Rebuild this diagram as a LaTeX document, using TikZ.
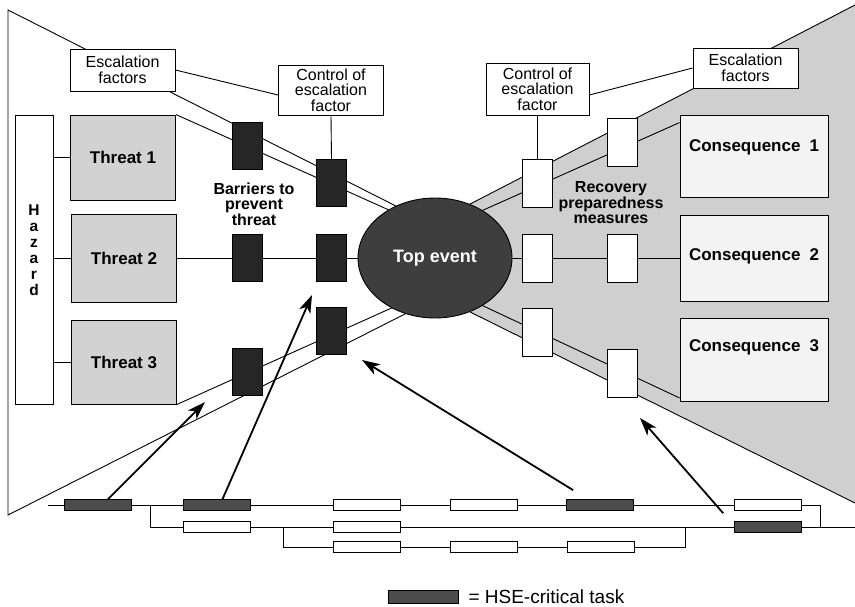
\documentclass[tikz,border=0pt]{standalone}
\usepackage{fontspec}
\setmainfont{Liberation Sans}
\usetikzlibrary{shapes.geometric,arrows.meta}
\pgfdeclarelayer{bg}
\pgfsetlayers{bg,main}

\definecolor{barrierfill}{HTML}{262626}
\definecolor{topfill}{HTML}{3E3E3E}
\definecolor{threatfill}{HTML}{D2D2D2}
\definecolor{recoveryfill}{HTML}{CFCFCF}
\definecolor{consfill}{HTML}{F3F3F3}
\definecolor{taskfill}{HTML}{4C4C4C}

\tikzset{
  wire/.style={line width=0.9pt},
  txtbox/.style={draw, line width=0.9pt, fill=white, inner sep=0pt, align=center,
    font=\fontsize{16}{15.5}\selectfont},
  threatbox/.style={draw, line width=0.9pt, fill=threatfill, inner sep=0pt,
    minimum width=105pt, font=\fontsize{17}{14}\selectfont\bfseries},
  barrier/.style={draw, line width=0.8pt, fill=barrierfill, inner sep=0pt,
    minimum width=30pt, minimum height=47pt},
  recbox/.style={draw, line width=0.8pt, fill=white, inner sep=0pt,
    minimum width=30pt, minimum height=48pt},
  consbox/.style={draw, line width=0.9pt, fill=consfill, inner sep=0pt,
    minimum width=148pt},
  constext/.style={font=\fontsize{17}{14}\selectfont\bfseries},
  lbl/.style={align=center, inner sep=0pt, font=\fontsize{16}{15.5}\selectfont\bfseries},
  task/.style={draw, line width=0.7pt, fill=white, inner sep=0pt,
    minimum width=67pt, minimum height=11pt},
  hsetask/.style={task, fill=taskfill},
  pointer/.style={line width=1.8pt, -{Stealth[length=18pt,width=12pt,inset=5pt]}},
}

\begin{document}
\begin{tikzpicture}[x=1pt,y=-1pt]
  \useasboundingbox (0,0) rectangle (855,606);%
  {\fontsize{17}{14}\selectfont

  % Escalation factors and their controls
  \node[txtbox, minimum width=105pt, minimum height=42pt] (escL) at (122.5,70) {Escalation\\factors};%
  \node[txtbox, minimum width=105pt, minimum height=50pt] (ctrlL) at (331,90) {Control of\\escalation\\factor};%
  \node[txtbox, minimum width=103pt, minimum height=52pt] (ctrlR) at (537.5,89) {Control of\\escalation\\factor};%
  \node[txtbox, minimum width=105pt, minimum height=40pt] (escR) at (745.5,68) {Escalation\\factors};%

  % Hazard and threats
  \node[txtbox, minimum width=38pt, minimum height=289pt,
    label={[yshift=9pt, align=center, font=\fontsize{15.5}{16}\selectfont\bfseries]center:H\\a\\z\\a\\r\\d}] (haz) at (34,259.5) {};%
  \node[threatbox, minimum height=85pt] (thr1) at (123,157.5) {Threat 1};%
  \node[threatbox, minimum height=88pt] (thr2) at (124,258) {Threat 2};%
  \node[threatbox, minimum height=84pt] (thr3) at (124,362) {Threat 3};%

  % Barriers to prevent threat
  \node[barrier] (prevA1) at (247,145.5) {};%
  \node[barrier] (prevA2) at (247,258) {};%
  \node[barrier] (prevA3) at (247.5,372) {};%
  \node[barrier] (prevB1) at (331.5,183) {};%
  \node[barrier] (prevB2) at (331.5,258) {};%
  \node[barrier] (prevB3) at (331.5,331) {};%
  \node[lbl] (barlbl) at (254,204) {Barriers to\\prevent\\threat};%

  % Top event
  \node[ellipse, draw, line width=0.9pt, fill=topfill, minimum width=154pt, minimum height=120pt,
    inner sep=0pt, text=white, font=\fontsize{18}{20}\selectfont\bfseries] (topev) at (435,258) {Top event};%

  % Recovery preparedness measures
  \node[recbox] (recA1) at (537.5,183.5) {};%
  \node[recbox] (recA2) at (537.5,258) {};%
  \node[recbox] (recA3) at (537.5,332.5) {};%
  \node[recbox] (recB1) at (622.5,142.5) {};%
  \node[recbox] (recB2) at (622.5,258) {};%
  \node[recbox] (recB3) at (622.5,373.5) {};%
  \node[lbl] (reclbl) at (611,203) {Recovery\\preparedness\\measures};%

  % Consequences
  \node[consbox, minimum height=82pt, label={[constext, yshift=9pt]center:Consequence\hspace{9pt}1}] (cons1) at (754,156) {};%
  \node[consbox, minimum height=86pt, label={[constext, yshift=2pt]center:Consequence\hspace{9pt}2}] (cons2) at (754,258) {};%
  \node[consbox, minimum height=83pt, label={[constext, yshift=13pt]center:Consequence\hspace{9pt}3}] (cons3) at (754,360) {};%

  % Task network
  \node[hsetask] (taskA) at (98,505) {};%
  \node[hsetask] (taskB) at (216.5,505) {};%
  \node[task] (taskC) at (366.5,505) {};%
  \node[task] (taskD) at (483.5,505) {};%
  \node[hsetask] (taskE) at (600,505) {};%
  \node[task] (taskF) at (768,505) {};%
  \node[task] (taskG) at (216.5,527) {};%
  \node[task] (taskH) at (366.5,527) {};%
  \node[hsetask] (taskJ) at (768,527) {};%
  \node[task] (taskK) at (366.5,547) {};%
  \node[task] (taskL) at (483.5,547) {};%
  \node[task] (taskM) at (600.5,547) {};%
  \coordinate (flowstart) at (48,505);%
  \coordinate (splitA) at (150,505);%
  \coordinate (splitB) at (283,527);%
  \coordinate (mergeB) at (685,527);%
  \coordinate (mergeA) at (820,527);%
  \coordinate (flowend) at (855,527);%

  % Legend
  \node[hsetask, minimum width=70pt, minimum height=13pt] (legbox) at (423,596.5) {};%
  \node[anchor=west, inner sep=0pt, font=\fontsize{19}{22}\selectfont] (legtext) at ([xshift=10pt]legbox.east) {= HSE-critical task};%

  \begin{pgfonlayer}{bg}
    % Recovery side of the bow-tie (shaded)
    \coordinate (rtopcorner) at (855,5);%
    \coordinate (rbotcorner) at (855,503);%
    \fill[recoveryfill] (topev.57) -- (rtopcorner) -- (rbotcorner) -- (topev.303) -- cycle;%
    \draw[wire] (topev.57) -- (rtopcorner);%
    \draw[wire] (topev.303) -- (rbotcorner);%

    % Threat side of the bow-tie
    \coordinate (ltopcorner) at (8,10);%
    \coordinate (lbotcorner) at (8,515);%
    \draw[wire] (topev.127) -- (ltopcorner) -- (lbotcorner) -- (topev.242);%

    % Hazard to threats to top event
    \draw[wire] (haz.east |- thr1.west) -- (thr1.west);%
    \draw[wire] (haz.east |- thr2.west) -- (thr2.west);%
    \draw[wire] (haz.east |- thr3.west) -- (thr3.west);%
    \draw[wire] (thr1.north east) -- (topev.134);%
    \draw[wire] (thr2) -- (topev);%
    \draw[wire] (thr3.south east) -- (topev.229);%

    % Top event to consequences
    \draw[wire] (topev.45) -- ([yshift=-8pt]cons1.north west);%
    \draw[wire] (topev) -- (cons2);%
    \draw[wire] (topev.315) -- ([yshift=4pt]cons3.south west);%

    % Escalation links
    \draw[wire] (escL.east) -- ([yshift=-5pt]ctrlL.west);%
    \draw[wire] (ctrlL.south) -- (prevB1.north);%
    \draw[wire] ([yshift=-6pt]ctrlR.east) -- (escR.west);%
    \draw[wire] (ctrlR.south) -- (recA1.north);%

    % Task network lines
    \draw[wire] (flowstart) -- (taskA) -- (taskB) -- (taskC) -- (taskD) -- (taskE) -- (taskF);%
    \draw[wire] (taskF) -| (mergeA);%
    \draw[wire] (splitA) |- (taskG);%
    \draw[wire] (taskG) -- (taskH) -- (taskJ) -- (flowend);%
    \draw[wire] (splitB) |- (taskK);%
    \draw[wire] (taskK) -- (taskL) -- (taskM) -| (mergeB);%
  \end{pgfonlayer}

  % Tasks pointing at the barriers and measures
  \coordinate (tipA) at (205,402);%
  \coordinate (tipB) at (312,295);%
  \coordinate (tipC) at (362,360);%
  \coordinate (tipD) at (640,418);%
  \draw[pointer] ([xshift=10pt]taskA.north) -- (tipA);%
  \draw[pointer] ([xshift=6pt]taskB.north) -- (tipB);%
  \draw[pointer] ([xshift=7pt,yshift=9pt]taskE.north west) -- (tipC);%
  \draw[pointer] ([xshift=-11pt,yshift=8pt]taskJ.north west) -- (tipD);%
  }
\end{tikzpicture}
\end{document}
